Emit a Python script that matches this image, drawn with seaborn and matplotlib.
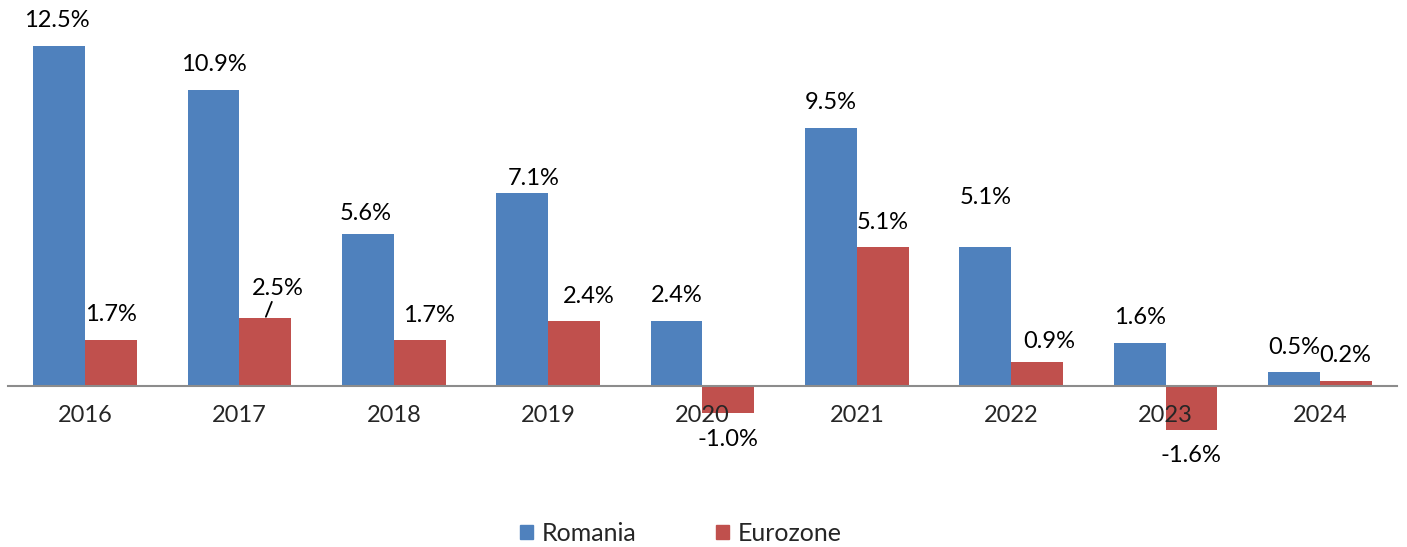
import matplotlib
matplotlib.use("Agg")
import matplotlib.pyplot as plt
import seaborn as sns
import pandas as pd

years = ["2016", "2017", "2018", "2019", "2020", "2021", "2022", "2023", "2024"]
romania = [12.5, 10.9, 5.6, 7.1, 2.4, 9.5, 5.1, 1.6, 0.5]
eurozone = [1.7, 2.5, 1.7, 2.4, -1.0, 5.1, 0.9, -1.6, 0.2]
series = ["Romania", "Eurozone"]
colors = ["#4F81BD", "#C0504D"]

# label offsets in pixels (dx, dy) where they differ from the default placement
rom_offsets = {"2016": (-2, 26), "2018": (-2, 20), "2019": (11, 14), "2022": (0, 50)}
eur_offsets = {"2017": (12, 30), "2018": (9, 24), "2019": (15, 24), "2022": (12, 20)}

df = pd.DataFrame({
    "year": years * 2,
    "value": romania + eurozone,
    "series": [series[0]] * len(years) + [series[1]] * len(years),
})

sns.set_style("white")
plt.rcParams["font.family"] = ["Lato", "DejaVu Sans"]

fig = plt.figure(figsize=(14.07, 5.47), dpi=100)
ax = fig.add_axes([8 / 1407, 0.170, 1389 / 1407, 0.9653 - 0.170])

sns.barplot(data=df, x="year", y="value", hue="series", palette=colors,
            width=0.67, gap=0, saturation=1, linewidth=0, ax=ax, legend=False)
for p in ax.patches:
    p.set_zorder(1)
ax.xaxis.set_zorder(5)

ax.set_xlim(-0.5, len(years) - 0.5)
ax.set_ylim(-2.5, 13.5)
ax.set_xlabel("")
ax.set_ylabel("")
ax.set_yticks([])
for s in ["top", "left", "right"]:
    ax.spines[s].set_visible(False)
ax.spines["bottom"].set_position(("data", 0))
ax.spines["bottom"].set_color("#8c8c8c")
ax.spines["bottom"].set_linewidth(1.5)
ax.spines["bottom"].set_zorder(2)
ax.set_xticks([i - 0.5 for i in range(len(years) + 1)], minor=True)
ax.tick_params(axis="x", which="minor", length=9, width=1.5, color="#8c8c8c", direction="out")
ax.tick_params(axis="x", which="major", length=0, pad=14, labelsize=17)

for k, (container, vals, offs) in enumerate(zip(ax.containers, [romania, eurozone],
                                                 [rom_offsets, eur_offsets])):
    for bar, v, yr in zip(container, vals, years):
        cx = bar.get_x() + bar.get_width() / 2
        dx, dy = offs.get(yr, (0, 25))
        if v < 0:
            dy = -26
        arrow = None
        if yr == "2017" and k == 1:
            # small leader line from the label down to the bar
            arrow = dict(arrowstyle="-", color="black", lw=1.3, shrinkA=0, shrinkB=1)
        ax.annotate(f"{v:.1f}%", xy=(cx, v), xytext=(dx, dy), textcoords="offset pixels",
                    ha="center", va="center", fontsize=17, color="black",
                    arrowprops=arrow, zorder=6)

handles = [plt.Rectangle((0, 0), 1, 1, color=c) for c in colors]
fig.legend(handles, series, loc="center", bbox_to_anchor=(0.484, 0.025), ncol=2,
           frameon=False, fontsize=18, handlelength=0.5, handleheight=0.5,
           handletextpad=0.35, columnspacing=3.2)

fig.savefig("out.png", dpi=100)
